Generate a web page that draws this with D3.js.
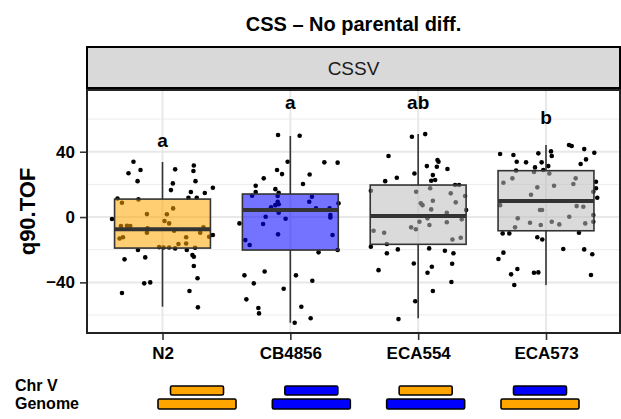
<!DOCTYPE html>
<html><head><meta charset="utf-8">
<script src="https://cdn.jsdelivr.net/npm/d3@7"></script>
<style>body{margin:0;background:#fff} svg{display:block;font-family:"Liberation Sans",Arial,sans-serif}</style>
</head><body><svg id="c" width="621" height="419"></svg>
<script>
const categories = ["N2", "CB4856", "ECA554", "ECA573"];
const q3Values = [11.0, 14.1, 19.6, 28.4];
const medianValues = [-7.5, 4.3, 0.6, 9.8];
const q1Values = [-19.0, -20.2, -16.7, -8.4];
const whiskerHigh = [33.7, 49.6, 50.8, 44.1];
const whiskerLow = [-54.9, -64.7, -62.0, -41.6];
const sigLetters = ["a", "a", "ab", "b"];
const letterY = [42.7, 66, 66, 57];
const yTicks = [-40, 0, 40];
const yMinor = [-60, -20, 20, 60];
const chrVGenotype = ["N2", "CB4856", "N2", "CB4856"];
const genomeGenotype = ["N2", "CB4856", "CB4856", "N2"];
const facetLabel = "CSSV";
const titleText = "CSS \u2013 No parental diff.";
const yLabel = "q90.TOF";

// points: [jitter offset, value]
const n2Points = [[-0.227,33.9],[-0.266,26.8],[-0.172,28.8],[-0.195,22.0],[0.099,29.2],[0.245,31.6],[0.242,28.2],[0.258,22.0],[0.081,20.6],[0.066,16.5],[0.222,15.3],[0.331,14.7],[0.394,17.9],[0.203,11.8],[0.268,11.8],[-0.352,11.4],[-0.188,10.8],[-0.317,8.8],[-0.122,1.8],[0.034,1.7],[0.083,5.3],[0.016,-2.4],[0.052,-3.9],[-0.395,-1.2],[-0.325,-5.5],[-0.278,-5.3],[-0.252,-5.5],[-0.117,-6.9],[-0.122,-9.6],[0.091,-8.4],[0.32,-6.3],[0.295,-9.6],[0.394,-11.0],[-0.309,-12.4],[-0.336,-13.1],[0.185,-12.4],[0.365,-12.1],[0.185,-16.2],[0.125,-16.5],[-0.026,-18.4],[0.008,-18.6],[0.052,-18.6],[0.099,-19.2],[0.255,-18.8],[-0.192,-20.2],[-0.135,-24.7],[-0.297,-25.9],[0.19,-20.2],[0.234,-23.3],[0.245,-24.3],[0.245,-30.0],[0.274,-37.5],[-0.143,-40.6],[-0.096,-40.0],[-0.317,-46.5],[0.211,-45.3],[0.277,-55.3]];
const cb4856Points = [[-0.096,50.2],[0.073,49.8],[-0.021,33.9],[0.266,33.5],[0.37,33.3],[-0.104,28.8],[-0.065,26.3],[-0.208,23.7],[0.151,26.1],[-0.271,19.2],[0.099,20.2],[-0.117,17.1],[-0.271,15.3],[-0.091,14.9],[-0.299,13.0],[-0.099,12.9],[0.169,12.4],[0.148,9.4],[-0.099,9.4],[-0.091,7.8],[-0.117,7.3],[-0.151,5.9],[0.377,8.4],[0.201,5.3],[0.307,5.3],[-0.091,2.6],[0.313,1.2],[0.313,-0.2],[-0.193,0.2],[-0.037,-1.0],[-0.398,-3.9],[-0.213,-4.3],[-0.096,-10.6],[0.33,-11.0],[-0.352,-14.1],[-0.318,-17.1],[0.37,-20.2],[0.221,-21.6],[-0.359,-35.7],[-0.201,-33.3],[0.044,-35.7],[-0.286,-40.6],[0.172,-39.0],[-0.052,-43.9],[-0.344,-50.4],[-0.25,-55.7],[-0.245,-59.0],[0.086,-54.9],[0.159,-62.0],[0.034,-64.7]];
const eca554Points = [[-0.049,49.2],[0.055,50.8],[-0.232,37.4],[0.068,31.2],[0.151,34.9],[0.159,33.9],[0.146,30.8],[0.229,29.4],[-0.029,26.7],[0.115,25.7],[-0.167,24.1],[-0.258,22.0],[0.102,22.2],[0.133,22.7],[0.289,19.6],[0.32,19.6],[-0.37,16.1],[-0.016,15.5],[0.094,17.6],[0.255,14.5],[0.367,12.9],[0.021,8.4],[0.034,7.3],[0.115,10.0],[0.294,9.0],[0.102,4.7],[0.375,4.3],[0.224,2.6],[0.073,-0.8],[0.01,-2.9],[0.224,-3.2],[0.341,-1.4],[0.088,-4.9],[-0.055,-6.3],[-0.018,-7.5],[-0.349,-8.4],[-0.266,-9.6],[0.268,-13.7],[0.333,-12.7],[-0.245,-16.5],[-0.37,-18.2],[-0.245,-22.2],[-0.159,-19.8],[0.086,-19.2],[0.209,-20.6],[0.276,-22.2],[-0.034,-28.4],[0.107,-30.4],[0.073,-34.1],[0.266,-28.6],[-0.31,-32.5],[0.26,-39.8],[0.115,-45.3],[-0.023,-51.6],[-0.154,-62.5]];
const eca573Points = [[0.18,44.1],[0.201,43.5],[0.299,41.6],[0.378,39.4],[-0.359,38.6],[-0.255,38.0],[-0.06,39.0],[0.039,40.2],[0.045,37.4],[0.313,35.3],[0.271,32.5],[-0.229,33.9],[-0.156,33.5],[-0.034,33.5],[0.018,31.2],[-0.086,30.4],[-0.021,28.8],[-0.234,28.4],[-0.094,27.6],[0.026,26.7],[-0.333,21.0],[-0.263,23.7],[0.232,23.7],[0.214,20.2],[0.063,19.2],[-0.068,18.2],[0.391,21.6],[0.391,17.6],[0.37,15.5],[-0.117,13.7],[0.401,11.8],[-0.359,7.3],[0.24,6.7],[0.292,6.3],[-0.047,4.3],[-0.031,4.3],[-0.221,-0.8],[0.182,0.2],[0.37,1.2],[-0.125,-3.5],[-0.041,-4.9],[0.045,-2.9],[0.104,-4.5],[-0.242,-6.3],[0.307,-3.9],[0.37,-2.9],[-0.339,-10.0],[-0.287,-10.0],[0.258,-9.6],[-0.068,-12.4],[-0.029,-13.7],[0.135,-19.6],[0.299,-19.8],[0.362,-22.8],[-0.333,-21.8],[-0.372,-25.7],[-0.224,-31.8],[-0.273,-35.1],[-0.094,-34.1],[-0.06,-33.9],[0.352,-35.5],[-0.248,-41.6]];
const groupPoints = [n2Points, cb4856Points, eca554Points, eca573Points];

const boxFill = ["#FFA500", "#0000FF", "#BBBBBB", "#BBBBBB"];
const genoColor = {"N2": "#FFA500", "CB4856": "#0000FF"};

const svg = d3.select("#c");
const P = {left: 87, right: 620, top: 90, bottom: 333};

const x = d3.scaleLinear().domain([1, 4]).range([162.5, 546]);
const y = d3.scaleLinear().domain([-71, 77.8]).range([P.bottom, P.top]);
const step = x(2) - x(1);
const boxW = step * 0.75;

// title
svg.append("text").attr("x", (P.left + P.right) / 2).attr("y", 31)
  .attr("text-anchor", "middle").attr("font-size", 20).attr("font-weight", "bold")
  .text(titleText);

// strip
svg.append("rect").attr("x", P.left).attr("y", 47).attr("width", P.right - P.left).attr("height", 41)
  .attr("fill", "#d9d9d9").attr("stroke", "#000").attr("stroke-width", 2);
svg.append("text").attr("x", (P.left + P.right) / 2).attr("y", 75)
  .attr("text-anchor", "middle").attr("font-size", 19).attr("fill", "#1a1a1a").text(facetLabel);

// panel bg
svg.append("rect").attr("x", P.left).attr("y", P.top).attr("width", P.right - P.left).attr("height", P.bottom - P.top)
  .attr("fill", "#fff");

const grid = svg.append("g");
grid.selectAll(".mn").data(yMinor).join("line")
  .attr("x1", P.left).attr("x2", P.right).attr("y1", d => y(d)).attr("y2", d => y(d))
  .attr("stroke", "#ececec").attr("stroke-width", 1);
grid.selectAll(".mj").data(yTicks).join("line")
  .attr("x1", P.left).attr("x2", P.right).attr("y1", d => y(d)).attr("y2", d => y(d))
  .attr("stroke", "#e8e8e8").attr("stroke-width", 2);
grid.selectAll(".vx").data(categories).join("line")
  .attr("x1", (d, i) => x(i + 1)).attr("x2", (d, i) => x(i + 1)).attr("y1", P.top).attr("y2", P.bottom)
  .attr("stroke", "#e8e8e8").attr("stroke-width", 2);

// points
const pts = svg.append("g");
groupPoints.forEach((arr, i) => {
  pts.selectAll(null).data(arr).join("circle")
    .attr("cx", d => x(i + 1 + d[0])).attr("cy", d => y(d[1])).attr("r", 2.3).attr("fill", "#000");
});

// boxes
const bx = svg.append("g");
categories.forEach((c, i) => {
  const cx = x(i + 1);
  bx.append("line").attr("x1", cx).attr("x2", cx).attr("y1", y(whiskerHigh[i])).attr("y2", y(q3Values[i]))
    .attr("stroke", "#333").attr("stroke-width", 1.6);
  bx.append("line").attr("x1", cx).attr("x2", cx).attr("y1", y(q1Values[i])).attr("y2", y(whiskerLow[i]))
    .attr("stroke", "#333").attr("stroke-width", 1.6);
  bx.append("rect").attr("x", cx - boxW / 2).attr("width", boxW)
    .attr("y", y(q3Values[i])).attr("height", y(q1Values[i]) - y(q3Values[i]))
    .attr("fill", boxFill[i]).attr("fill-opacity", 0.55).attr("stroke", "#333").attr("stroke-width", 1.6);
  bx.append("line").attr("x1", cx - boxW / 2).attr("x2", cx + boxW / 2)
    .attr("y1", y(medianValues[i])).attr("y2", y(medianValues[i]))
    .attr("stroke", "#333").attr("stroke-width", 4);
  svg.append("text").attr("x", cx).attr("y", y(letterY[i])).attr("text-anchor", "middle")
    .attr("font-size", 19).attr("font-weight", "bold").text(sigLetters[i]);
});

// panel border
svg.append("rect").attr("x", P.left).attr("y", P.top).attr("width", P.right - P.left).attr("height", P.bottom - P.top)
  .attr("fill", "none").attr("stroke", "#222").attr("stroke-width", 2);

// axes
const yAxis = d3.axisLeft(y).tickValues(yTicks).tickSize(6).tickPadding(5).tickFormat(d => d < 0 ? "\u2212" + Math.abs(d) : d);
const gy = svg.append("g").attr("transform", `translate(${P.left - 1},0)`).call(yAxis);
gy.select(".domain").remove();
gy.selectAll("line").attr("stroke", "#333").attr("stroke-width", 1.6);
gy.selectAll("text").attr("font-size", 17).attr("font-weight", "bold").attr("fill", "#000")
  .attr("font-family", "Liberation Sans, Arial, sans-serif");

const xAxis = d3.axisBottom(x).tickValues([1, 2, 3, 4]).tickSize(6).tickPadding(7).tickFormat(d => categories[d - 1]);
const gx = svg.append("g").attr("transform", `translate(0,${P.bottom + 1})`).call(xAxis);
gx.select(".domain").remove();
gx.selectAll("line").attr("stroke", "#333").attr("stroke-width", 1.6);
gx.selectAll("text").attr("font-size", 17).attr("font-weight", "bold").attr("fill", "#000")
  .attr("font-family", "Liberation Sans, Arial, sans-serif");

// y label
svg.append("text").attr("transform", `translate(35,${(P.top + P.bottom) / 2}) rotate(-90)`)
  .attr("text-anchor", "middle").attr("font-size", 22).attr("font-weight", "bold").text(yLabel);

// genotype bars
const gxs = d3.scaleLinear().domain([1, 4]).range([197, 540]);
const gb = svg.append("g");
svg.append("text").attr("x", 15).attr("y", 391).attr("font-size", 16).attr("font-weight", "bold").text("Chr V");
svg.append("text").attr("x", 15).attr("y", 409).attr("font-size", 16).attr("font-weight", "bold").text("Genome");
categories.forEach((c, i) => {
  const cx = gxs(i + 1);
  gb.append("rect").attr("x", cx - 26.5).attr("y", 386).attr("width", 53).attr("height", 9).attr("rx", 1.5)
    .attr("fill", genoColor[chrVGenotype[i]]).attr("stroke", "#000").attr("stroke-width", 1.6);
  gb.append("rect").attr("x", cx - 39).attr("y", 399).attr("width", 78).attr("height", 10).attr("rx", 1.5)
    .attr("fill", genoColor[genomeGenotype[i]]).attr("stroke", "#000").attr("stroke-width", 1.6);
});
</script></body></html>
